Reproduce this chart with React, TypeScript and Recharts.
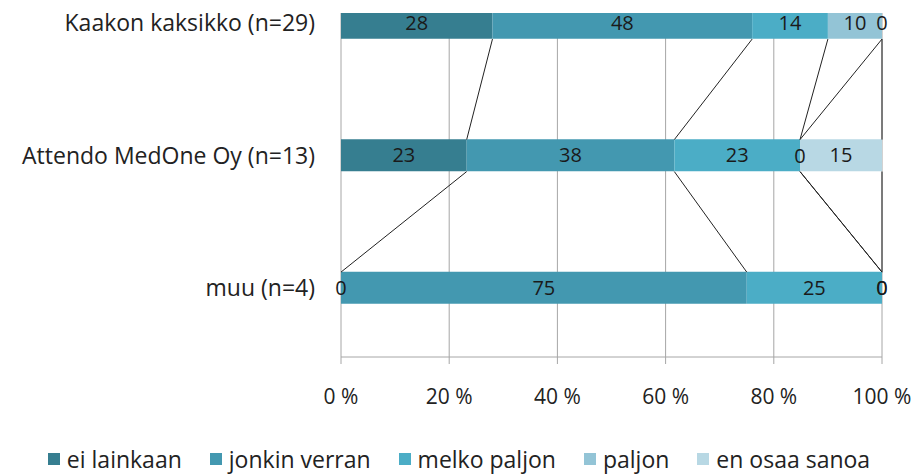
import { BarChart, Bar, XAxis, YAxis, CartesianGrid, Legend, LabelList, ReferenceLine, ReferenceDot } from 'recharts'

const categories = ['Kaakon kaksikko (n=29)', 'Attendo MedOne Oy (n=13)', 'muu (n=4)']
const seriesNames = ['ei lainkaan', 'jonkin verran', 'melko paljon', 'paljon', 'en osaa sanoa']
const eiLainkaan = [28, 23, 0]
const jonkinVerran = [48, 38, 75]
const melkoPaljon = [14, 23, 25]
const paljon = [10, 0, 0]
const enOsaaSanoa = [0, 15, 0]
const xTicks = [0, 0.2, 0.4, 0.6, 0.8, 1]

const seriesValues = [eiLainkaan, jonkinVerran, melkoPaljon, paljon, enOsaaSanoa]
const colors = ['#367e90', '#4398b0', '#4badc6', '#93c4d6', '#b8d8e4']

const FONT = '"Open Sans", "Noto Sans", sans-serif'
const PLOT_TOP = 13
const PLOT_BOTTOM = 357
const Y_DOMAIN: [number, number] = [-0.076, 2.52]
const BAR_SIZE = 32

const data = categories.map((name, i) => {
  const row: Record<string, string | number> = { name, pos: i }
  seriesValues.forEach((vals, k) => {
    row['s' + k] = vals[i]
  })
  return row
})

// half a bar, in y-axis units, so series lines start/end on the bar edges
const halfBar = ((BAR_SIZE / 2) * (Y_DOMAIN[1] - Y_DOMAIN[0])) / (PLOT_BOTTOM - PLOT_TOP)

// running share per row, same thing stackOffset="expand" stacks to
const cumulative = categories.map((_, i) => {
  const total = seriesValues.reduce((s, v) => s + v[i], 0)
  let run = 0
  return seriesValues.map((v) => (run += v[i]) / total)
})

const seriesLines: { x: number; y: number }[][] = []
for (let i = 0; i < categories.length - 1; i++) {
  for (let k = 0; k < seriesValues.length; k++) {
    seriesLines.push([
      { x: cumulative[i][k], y: i + halfBar },
      { x: cumulative[i + 1][k], y: i + 1 - halfBar },
    ])
  }
}

// recharts skips labels on zero-width segments, excel still prints "0"
const zeroLabels: { x: number; y: number }[] = []
categories.forEach((_, i) => {
  seriesValues.forEach((v, k) => {
    if (v[i] === 0) zeroLabels.push({ x: cumulative[i][k], y: i })
  })
})

function LegendRow() {
  return (
    <div
      style={{
        display: 'flex',
        justifyContent: 'center',
        position: 'relative',
        left: 32,
        paddingTop: 2,
        whiteSpace: 'nowrap',
        fontFamily: FONT,
        fontSize: 23,
        color: '#222',
        lineHeight: '28px',
        height: 28,
      }}
    >
      {seriesNames.map((name, k) => (
        <div key={name} style={{ display: 'flex', alignItems: 'center', marginRight: 28, flexShrink: 0 }}>
          <span style={{ width: 12, height: 12, background: colors[k], marginRight: 7, display: 'inline-block' }} />
          <span>{name}</span>
        </div>
      ))}
    </div>
  )
}

export default function App() {
  return (
    <div style={{ position: 'absolute', left: 0, top: 0, background: '#fff' }}>
      <BarChart
        width={916}
        height={475}
        data={data}
        layout="vertical"
        stackOffset="expand"
        margin={{ top: PLOT_TOP, right: 34, bottom: 0, left: 0 }}
      >
        <CartesianGrid horizontal={false} stroke="#a6a6a6" />
        <XAxis
          type="number"
          domain={[0, 1]}
          ticks={xTicks}
          tickFormatter={(v: number) => `${Math.round(v * 100)} %`}
          stroke="#a6a6a6"
          tickSize={7}
          tickMargin={25}
          height={86}
          tick={{ fill: '#222', fontSize: 21, fontFamily: FONT }}
        />
        <YAxis
          type="number"
          dataKey="pos"
          domain={Y_DOMAIN}
          allowDataOverflow
          ticks={[0, 1, 2]}
          tickFormatter={(v: number) => categories[v] ?? ''}
          axisLine={false}
          tickLine={false}
          tickMargin={20}
          width={341}
          tick={{ fill: '#222', fontSize: 23, fontFamily: FONT }}
        />
        {seriesNames.map((name, k) => (
          <Bar
            key={name}
            dataKey={'s' + k}
            name={name}
            stackId="a"
            fill={colors[k]}
            barSize={BAR_SIZE}
            isAnimationActive={false}
          >
            <LabelList
              dataKey={'s' + k}
              position="center"
              formatter={(v: any) => String(v)}
              fill="#1a1a1a"
              fontSize={20}
              fontFamily={FONT}
            />
          </Bar>
        ))}
        {seriesLines.map((seg, j) => (
          <ReferenceLine key={j} segment={seg} stroke="#222" strokeWidth={1} />
        ))}
        {zeroLabels.map((p, j) => (
          <ReferenceDot
            key={'z' + j}
            x={p.x}
            y={p.y}
            r={0}
            fill="none"
            stroke="none"
            label={{ value: '0', position: 'center', fill: '#1a1a1a', fontSize: 20, fontFamily: FONT }}
          />
        ))}
        <Legend verticalAlign="bottom" height={32} content={<LegendRow />} />
      </BarChart>
    </div>
  )
}
